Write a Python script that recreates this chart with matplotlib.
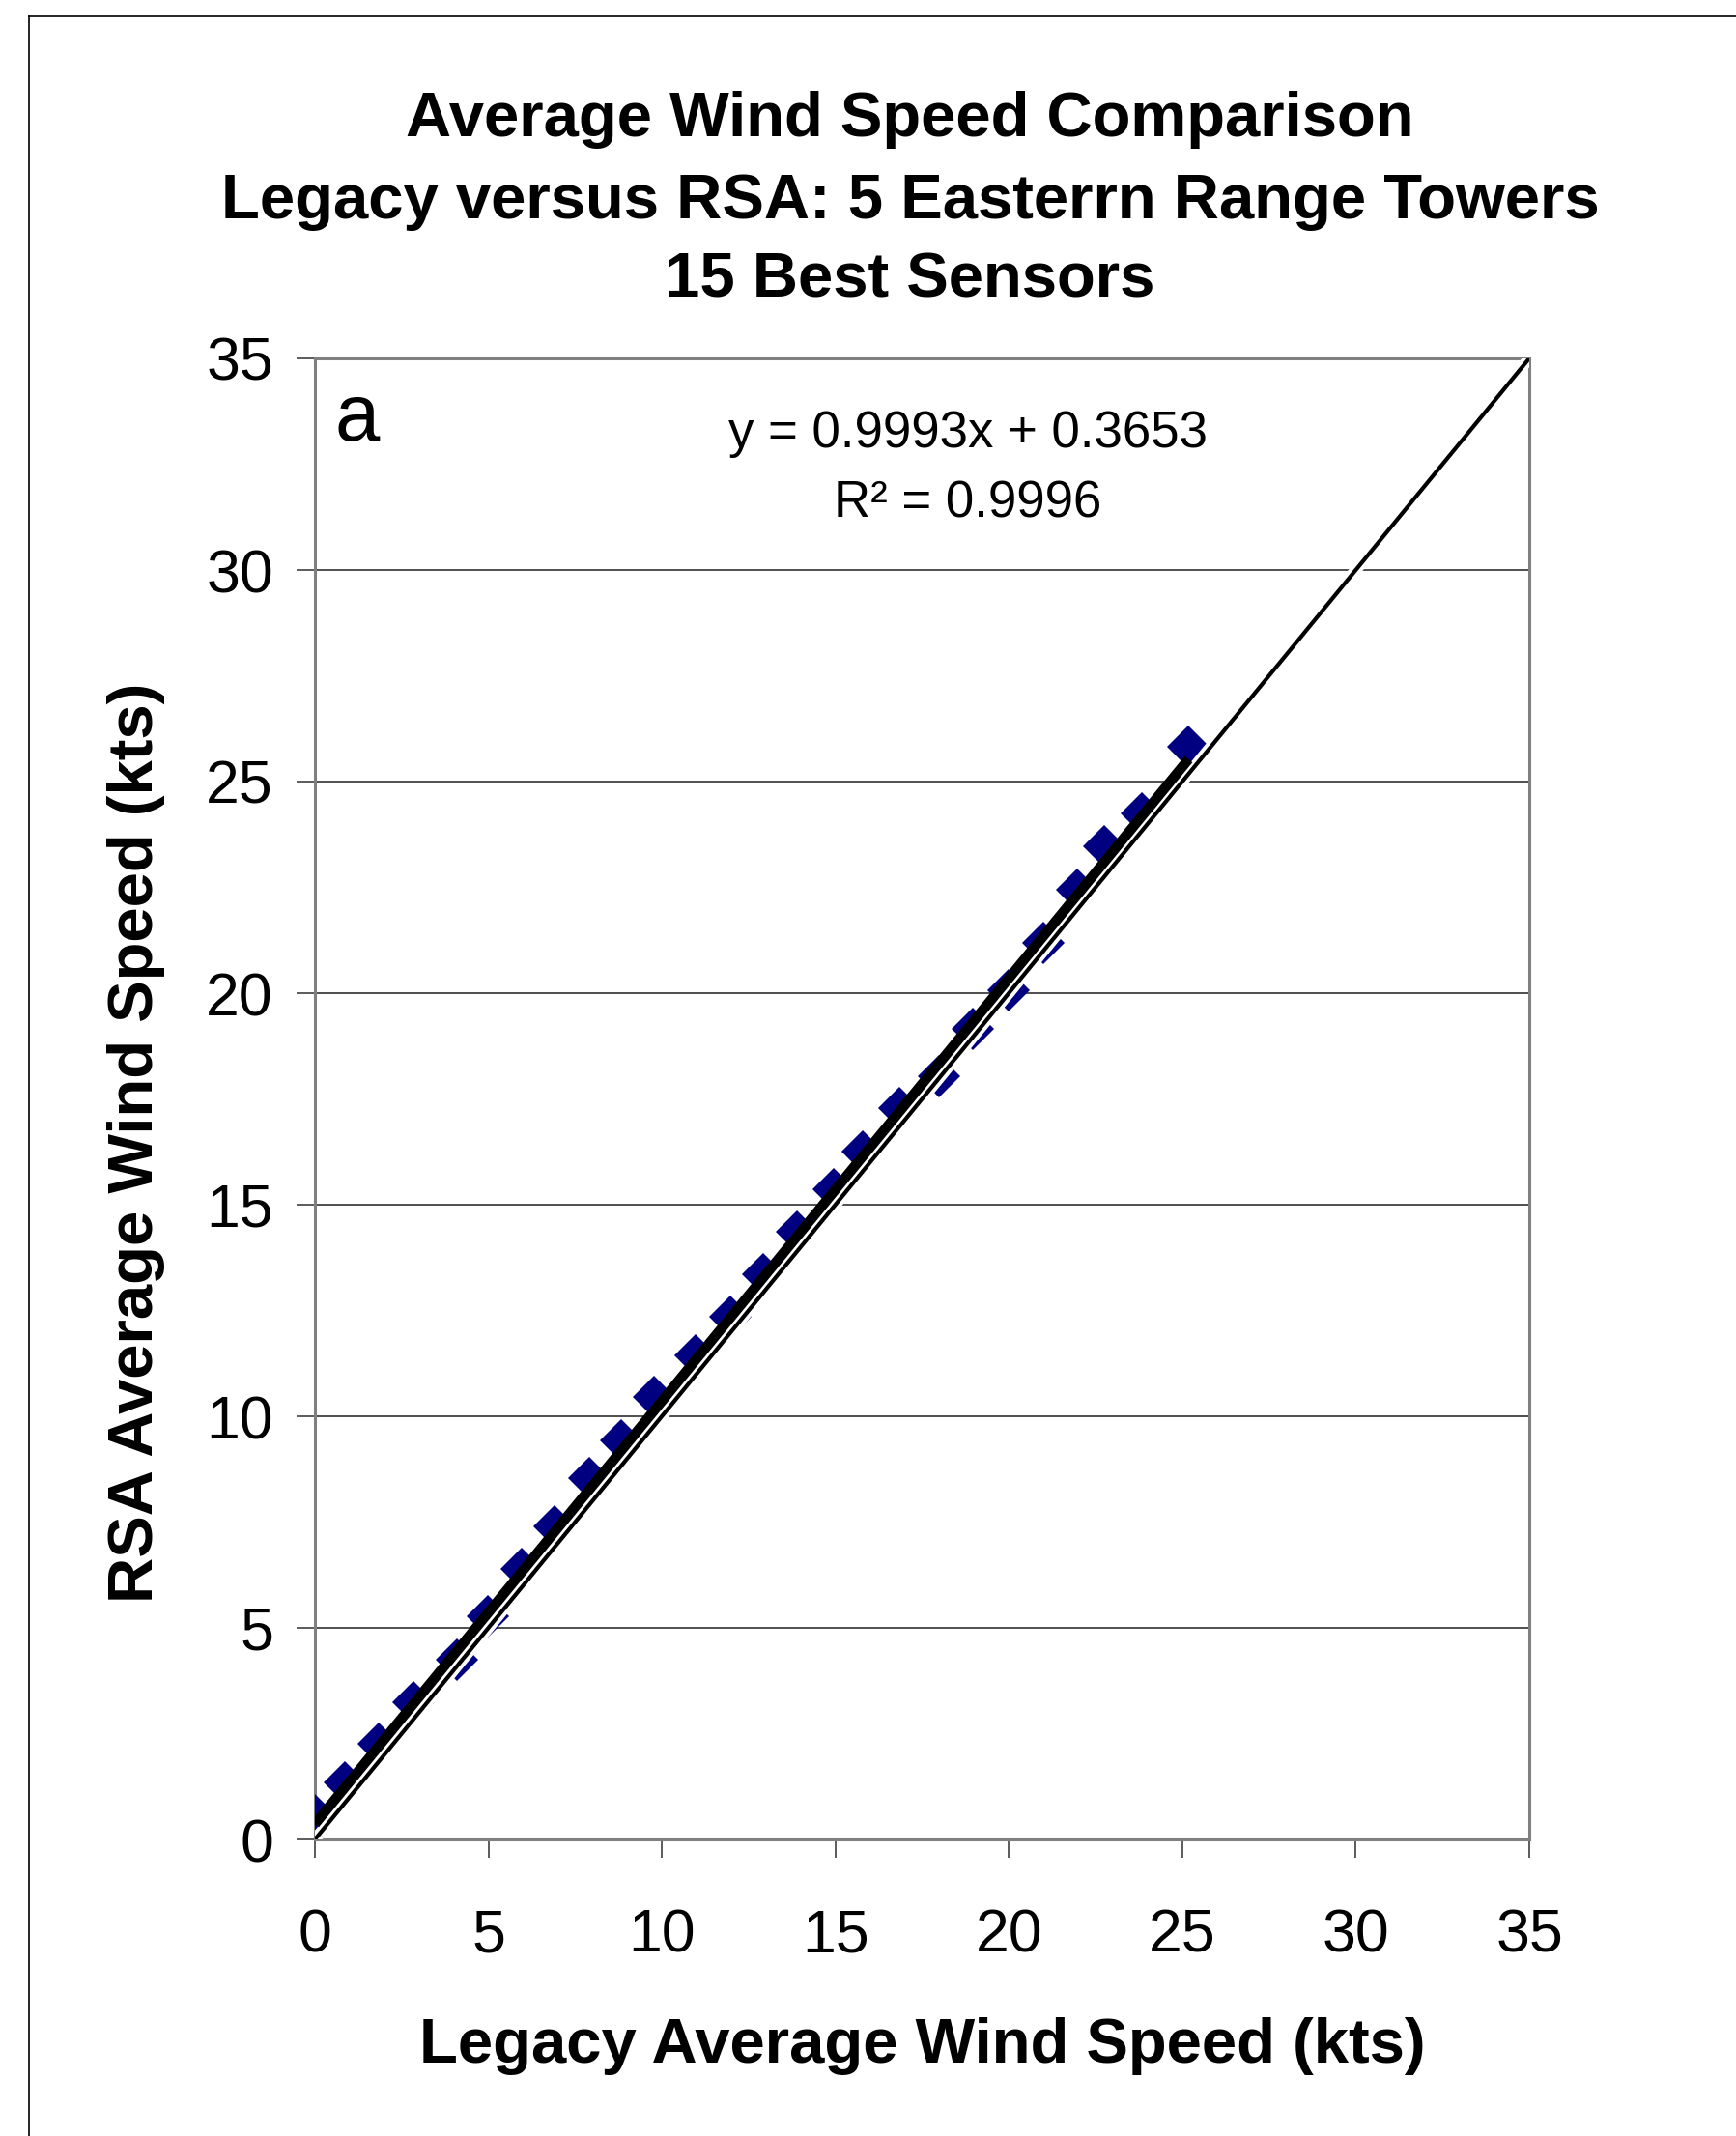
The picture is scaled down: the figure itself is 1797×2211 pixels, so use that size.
import numpy as np
import matplotlib
matplotlib.use("Agg")
import matplotlib.pyplot as plt
import matplotlib.patheffects as pe

# legacy vs RSA average wind speed (kts)
legacy = [0.0, 0.86, 1.85, 2.83, 4.08, 4.99, 5.97, 6.9, 7.9, 8.84, 9.78, 10.96, 11.98,
          12.92, 13.9, 14.96, 15.8, 16.85, 17.99, 18.97, 19.99, 21.0, 21.96, 22.74,
          23.84, 25.18]
rsa = [0.58, 1.35, 2.25, 3.25, 4.25, 5.28, 6.4, 7.4, 8.53, 9.43, 10.46, 11.43, 12.36,
       13.36, 14.36, 15.36, 16.26, 17.29, 18.03, 19.16, 20.06, 21.19, 22.44, 23.47,
       24.24, 25.82]
fit_slope = 0.9993
fit_icept = 0.3653
fit_r2 = 0.9996
ticks = [0, 5, 10, 15, 20, 25, 30, 35]
lim = 35

title_lines = ["Average Wind Speed Comparison",
               "Legacy versus RSA: 5 Easterrn Range Towers",
               "15 Best Sensors"]

plt.rcParams['font.family'] = ['Liberation Sans', 'DejaVu Sans']

W, H, dpi = 1797, 2211, 100
fig = plt.figure(figsize=(W / dpi, H / dpi), dpi=dpi)
fig.patch.set_facecolor('white')

# outer border (only left/top edges visible)
fig.add_artist(plt.Line2D([30 / W, 30 / W], [0, 1 - 17 / H], transform=fig.transFigure,
                          color='black', lw=1.2))
fig.add_artist(plt.Line2D([30 / W, 1], [1 - 17 / H, 1 - 17 / H], transform=fig.transFigure,
                          color='black', lw=1.2))

ax = fig.add_axes([326 / W, 1 - 1904 / H, (1583 - 326) / W, (1904 - 371) / H])

ax.plot(legacy, rsa, ls='none', marker='D', ms=22, color='#000080', mec='#000080',
        mew=0, zorder=3)

# 1:1 line with white halo
ax.plot([0, lim], [0, lim], color='black', lw=3.0, zorder=4,
        path_effects=[pe.Stroke(linewidth=8.5, foreground='white'), pe.Normal()])

# trend line
xfit = np.array([min(legacy), max(legacy)])
ax.plot(xfit, fit_slope * xfit + fit_icept, color='black', lw=7.5, zorder=5,
        solid_capstyle='butt')

ax.set_xlim(0, lim)
ax.set_ylim(0, lim)
ax.set_xticks(ticks)
ax.set_yticks(ticks)
ax.tick_params(axis='both', direction='out', length=14, width=1.2, color='#404040',
               labelsize=45)
ax.tick_params(axis='x', pad=37)
ax.tick_params(axis='y', pad=17)
ax.yaxis.grid(True, color='#404040', lw=1.3)
ax.set_axisbelow(True)
for s in ax.spines.values():
    s.set_color('#808080')
    s.set_linewidth(2.2)

ax.text(370 / W, 1 - 434 / H, "a", transform=fig.transFigure, fontsize=60,
        ha='center', va='center')
ax.text(1002 / W, 1 - 449 / H, "y = %.4fx + %.4f" % (fit_slope, fit_icept),
        transform=fig.transFigure, fontsize=38, ha='center', va='center')
ax.text(1002 / W, 1 - 522 / H, "R\u00b2 = %.4f" % fit_r2,
        transform=fig.transFigure, fontsize=38, ha='center', va='center')

for yy, line in zip([124, 209, 291], title_lines):
    fig.text(942 / W, 1 - yy / H, line, fontsize=47, fontweight='bold',
             ha='center', va='center')

fig.text(955 / W, 1 - 2118 / H, "Legacy Average Wind Speed (kts)", fontsize=47,
         fontweight='bold', ha='center', va='center')
fig.text(141 / W, 1 - 1183 / H, "RSA Average Wind Speed (kts)", fontsize=47,
         fontweight='bold', ha='center', va='center', rotation=90)

fig.savefig("out.png", dpi=dpi, facecolor='white')
